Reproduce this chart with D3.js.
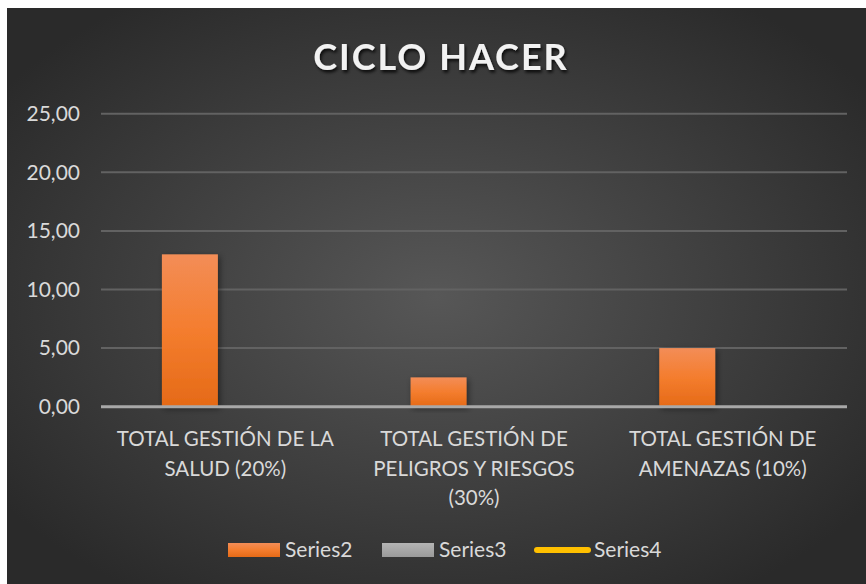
<!DOCTYPE html>
<html>
<head>
<meta charset="utf-8">
<script src="https://cdn.jsdelivr.net/npm/d3@7"></script>
<style>
  body { margin: 0; background: #fff; }
</style>
</head>
<body>
<div id="chart"></div>
<script>
const categories = [
  ["TOTAL GESTIÓN DE LA", "SALUD (20%)"],
  ["TOTAL GESTIÓN DE", "PELIGROS Y RIESGOS", "(30%)"],
  ["TOTAL GESTIÓN DE", "AMENAZAS (10%)"]
];
const series2 = [13.0, 2.5, 5.0];
const series3 = [0, 0, 0];
const series4 = [0, 0, 0];
const seriesNames = ["Series2", "Series3", "Series4"];
const yTicks = [0, 5, 10, 15, 20, 25];

function main() {
    const W = 866, H = 584;
    const svg = d3.select("#chart").append("svg")
        .attr("width", W)
        .attr("height", H);

    const defs = svg.append("defs");
    const bg = defs.append("radialGradient").attr("id", "bg")
        .attr("cx", "50%").attr("cy", "50%").attr("r", "62%");
    bg.append("stop").attr("offset", "0%").attr("stop-color", "#575757");
    bg.append("stop").attr("offset", "100%").attr("stop-color", "#2a2a2a");

    const orange = defs.append("linearGradient").attr("id", "orange")
        .attr("x1", 0).attr("y1", 0).attr("x2", 0).attr("y2", 1);
    orange.append("stop").attr("offset", "0%").attr("stop-color", "#f38d57");
    orange.append("stop").attr("offset", "50%").attr("stop-color", "#f47d2e");
    orange.append("stop").attr("offset", "100%").attr("stop-color", "#e56a17");

    const grey = defs.append("linearGradient").attr("id", "grey")
        .attr("x1", 0).attr("y1", 0).attr("x2", 0).attr("y2", 1);
    grey.append("stop").attr("offset", "0%").attr("stop-color", "#b4b4b4");
    grey.append("stop").attr("offset", "100%").attr("stop-color", "#9a9a9a");

    const shadow = defs.append("filter").attr("id", "shadow")
        .attr("x", "-20%").attr("y", "-20%").attr("width", "140%").attr("height", "140%");
    shadow.append("feDropShadow").attr("dx", 2).attr("dy", 2)
        .attr("stdDeviation", 3).attr("flood-color", "#000").attr("flood-opacity", 0.45);

    const tshadow = defs.append("filter").attr("id", "tshadow")
        .attr("x", "-10%").attr("y", "-30%").attr("width", "120%").attr("height", "160%");
    tshadow.append("feDropShadow").attr("dx", 1.5).attr("dy", 2.5)
        .attr("stdDeviation", 1.5).attr("flood-color", "#000").attr("flood-opacity", 0.8);

    // background
    svg.append("rect")
        .attr("x", 7).attr("y", 8)
        .attr("width", W - 7).attr("height", H - 8)
        .attr("fill", "url(#bg)");

    // title
    svg.append("text")
        .attr("x", 441).attr("y", 70)
        .attr("text-anchor", "middle")
        .attr("font-family", "Lato, 'Open Sans', sans-serif")
        .attr("font-weight", "bold")
        .attr("font-size", "36px")
        .attr("letter-spacing", "2px")
        .attr("fill", "#f2f2f2")
        .attr("filter", "url(#tshadow)")
        .text("CICLO HACER");

    const x0 = d3.scaleBand()
        .domain(d3.range(categories.length))
        .range([101, 847])
        .padding(0);

    const bw = x0.bandwidth();
    const x1 = d3.scaleBand()
        .domain(["Series2", "Series3"])
        .range([bw * 0.245, bw * 0.695])
        .padding(0);

    const y = d3.scaleLinear().domain([0, 25]).range([406.7, 113.7]);

    // gridlines
    svg.append("g")
        .selectAll("line")
        .data(yTicks.filter(d => d > 0))
        .enter()
        .append("line")
        .attr("x1", 101).attr("x2", 847)
        .attr("y1", d => y(d)).attr("y2", d => y(d))
        .attr("stroke", "#626262")
        .attr("stroke-width", 2);

    // y axis labels
    const yAxis = svg.append("g")
        .attr("transform", "translate(80,0)")
        .call(d3.axisLeft(y).tickValues(yTicks).tickSize(0).tickPadding(0)
            .tickFormat(d => d3.format(".2f")(d).replace(".", ",")));
    yAxis.select(".domain").remove();
    yAxis.selectAll("text")
        .attr("font-family", "Lato, 'Open Sans', sans-serif")
        .attr("font-size", "21px")
        .attr("fill", "#d9d9d9");

    // bars
    const rows = categories.map((c, i) => ({ i: i, Series2: series2[i], Series3: series3[i] }));
    const groups = svg.append("g").selectAll("g")
        .data(rows)
        .enter()
        .append("g")
        .attr("transform", d => "translate(" + x0(d.i) + ",0)");

    groups.selectAll("rect")
        .data(d => ["Series2", "Series3"].map(k => ({ key: k, value: d[k] })))
        .enter()
        .append("rect")
        .attr("x", d => x1(d.key))
        .attr("width", x1.bandwidth())
        .attr("y", d => y(d.value))
        .attr("height", d => y(0) - y(d.value))
        .attr("fill", d => d.key == "Series2" ? "url(#orange)" : "url(#grey)")
        .attr("filter", "url(#shadow)");

    // series4 line (all zeros, hidden under the axis)
    svg.append("path")
        .datum(series4)
        .attr("fill", "none")
        .attr("stroke", "#ffc000")
        .attr("stroke-width", 0)
        .attr("d", d3.line().x((d, i) => x0(i) + bw / 2).y(d => y(d)));

    // x axis line
    svg.append("line")
        .attr("x1", 101).attr("x2", 847)
        .attr("y1", y(0)).attr("y2", y(0))
        .attr("stroke", "#a8a8a8")
        .attr("stroke-width", 3);

    // category labels
    const lab = svg.append("g").selectAll("text")
        .data(categories)
        .enter()
        .append("text")
        .attr("text-anchor", "middle")
        .attr("font-family", "Lato, 'Open Sans', sans-serif")
        .attr("font-size", "20.5px")
        .attr("fill", "#d9d9d9");
    lab.each(function (lines, i) {
        d3.select(this).selectAll("tspan")
            .data(lines)
            .enter()
            .append("tspan")
            .attr("x", x0(i) + bw / 2)
            .attr("y", (d, j) => 446 + j * 29.5)
            .text(d => d);
    });

    // legend
    const legend = svg.append("g");
    const lx = [228, 382, 534];
    seriesNames.forEach((name, i) => {
        if (i < 2) {
            legend.append("rect")
                .attr("x", lx[i]).attr("y", 543)
                .attr("width", 52).attr("height", 14)
                .attr("fill", i == 0 ? "url(#orange)" : "url(#grey)");
        } else {
            legend.append("line")
                .attr("x1", lx[i] + 3).attr("x2", lx[i] + 54)
                .attr("y1", 550).attr("y2", 550)
                .attr("stroke", "#ffc000")
                .attr("stroke-width", 6)
                .attr("stroke-linecap", "round");
        }
        legend.append("text")
            .attr("x", lx[i] + (i < 2 ? 57 : 60)).attr("y", 557)
            .attr("font-family", "Lato, 'Open Sans', sans-serif")
            .attr("font-size", "21px")
            .attr("fill", "#d9d9d9")
            .text(name);
    });
}
main();
</script>
</body>
</html>
